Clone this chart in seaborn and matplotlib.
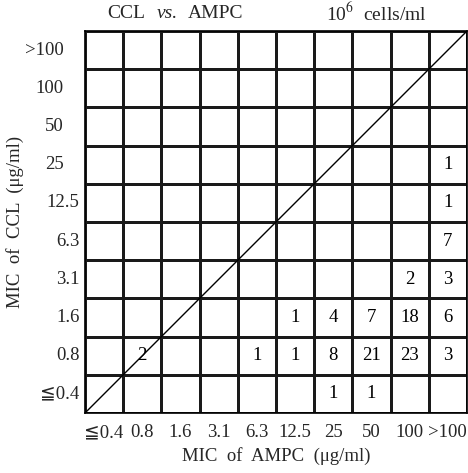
import numpy as np
import matplotlib
matplotlib.use("Agg")
import matplotlib.pyplot as plt
import matplotlib.transforms as mtransforms
import seaborn as sns

# MIC categories (ug/ml)
ampc_labels = ["≦0.4", "0.8", "1.6", "3.1", "6.3", "12.5", "25", "50", "100", ">100"]
ccl_labels = ["≦0.4", "0.8", "1.6", "3.1", "6.3", "12.5", "25", "50", "100", ">100"]

# strain counts, one row per CCL level (bottom to top), columns AMPC levels
counts_04 = [0, 0, 0, 0, 0, 0, 1, 1, 0, 0]
counts_08 = [0, 2, 0, 0, 1, 1, 8, 21, 23, 3]
counts_16 = [0, 0, 0, 0, 0, 1, 4, 7, 18, 6]
counts_31 = [0, 0, 0, 0, 0, 0, 0, 0, 2, 3]
counts_63 = [0, 0, 0, 0, 0, 0, 0, 0, 0, 7]
counts_125 = [0, 0, 0, 0, 0, 0, 0, 0, 0, 1]
counts_25 = [0, 0, 0, 0, 0, 0, 0, 0, 0, 1]
counts_50 = [0] * 10
counts_100 = [0] * 10
counts_gt100 = [0] * 10

rows = [counts_04, counts_08, counts_16, counts_31, counts_63,
        counts_125, counts_25, counts_50, counts_100, counts_gt100]
grid = np.array(rows[::-1])  # top row first for heatmap
annot = np.where(grid > 0, grid.astype(str), "")

sns.set_style("white")
plt.rcParams["font.family"] = ["Liberation Serif", "DejaVu Sans", "Noto Sans CJK JP"]
plt.rcParams["mathtext.fontset"] = "stix"

fig = plt.figure(figsize=(4.68, 4.73), dpi=100)
ax = fig.add_axes([0.1816, 0.1268, 0.8162, 0.8076])

sns.heatmap(grid, ax=ax, cmap=matplotlib.colors.ListedColormap(["white"]),
            cbar=False, linewidths=0.85, linecolor="#1a1a1a",
            annot=annot, fmt="", annot_kws={"fontsize": 13.5, "color": "black"},
            xticklabels=ampc_labels, yticklabels=ccl_labels[::-1])

n = len(ampc_labels)
ax.plot([0, n], [n, 0], color="black", lw=1.0)

for s in ax.spines.values():
    s.set_visible(True)
    s.set_color("black")
    s.set_linewidth(1.2)

ax.tick_params(axis="both", length=0, labelsize=13.5)
ax.tick_params(axis="y", pad=4, rotation=0)
ax.tick_params(axis="x", pad=8, rotation=0)

# whole numbers sit further left in the original
shift = mtransforms.ScaledTranslation(-16 / 100, 0, fig.dpi_scale_trans)
for lab in ax.get_yticklabels():
    if "." not in lab.get_text():
        lab.set_transform(lab.get_transform() + shift)

ax.set_xlabel("MIC  of  AMPC  (μg/ml)", fontsize=13.5, labelpad=4)
ax.set_ylabel("MIC  of  CCL  (μg/ml)", fontsize=13.5)
ax.yaxis.set_label_coords(-0.16, 0.5)

fig.text(0.27, 0.972, "CCL", ha="center", va="center", fontsize=14)
fig.text(0.358, 0.972, "vs.", ha="center", va="center", fontsize=14, style="italic")
fig.text(0.46, 0.972, "AMPC", ha="center", va="center", fontsize=14)
fig.text(0.805, 0.972, "10$^{6}$  cells/ml", ha="center", va="center", fontsize=14)

fig.savefig("out.png", dpi=100)
